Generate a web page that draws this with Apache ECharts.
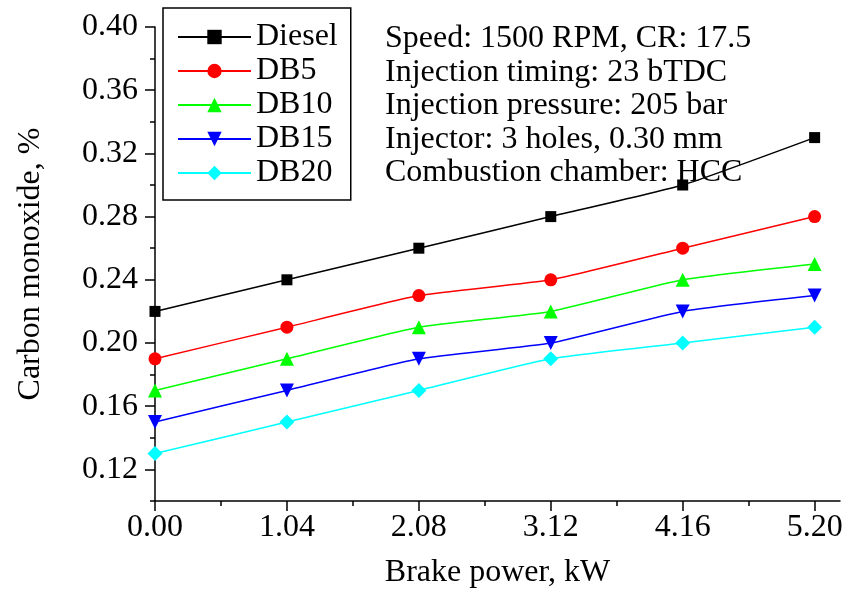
<!DOCTYPE html>
<html>
<head>
<meta charset="utf-8">
<script src="https://cdn.jsdelivr.net/npm/echarts@6/dist/echarts.min.js"></script>
<style>
  html, body { margin: 0; padding: 0; background: #fff; }
  #chart { width: 847px; height: 594px; }
</style>
</head>
<body>
<div id="chart"></div>
<script>
  // brake power, kW
  const power = [0.00, 1.04, 2.08, 3.12, 4.16, 5.20]
  const diesel = [0.22, 0.24, 0.26, 0.28, 0.30, 0.33]
  const db5 = [0.19, 0.21, 0.23, 0.24, 0.26, 0.28]
  const db10 = [0.17, 0.19, 0.21, 0.22, 0.24, 0.25]
  const db15 = [0.15, 0.17, 0.19, 0.20, 0.22, 0.23]
  const db20 = [0.13, 0.15, 0.17, 0.19, 0.20, 0.21]

  const xTicks = [0.00, 1.04, 2.08, 3.12, 4.16, 5.20]
  const xMinor = [0.52, 1.56, 2.60, 3.64, 4.68]
  const yTicks = [0.12, 0.16, 0.20, 0.24, 0.28, 0.32, 0.36, 0.40]
  const yMinor = [0.10, 0.14, 0.18, 0.22, 0.26, 0.30, 0.34, 0.38]

  const notes = [
    'Speed: 1500 RPM, CR: 17.5',
    'Injection timing: 23 bTDC',
    'Injection pressure: 205 bar',
    'Injector: 3 holes, 0.30 mm',
    'Combustion chamber: HCC'
  ]

  const font = 'Liberation Serif'
  const fs = 32

  const pairs = arr => power.map((p, i) => [p, arr[i]])

  const mk = (name, data, color, symbol, size, rotate) => ({
    name: name,
    type: 'line',
    data: pairs(data),
    smooth: 0.15,
    symbol: symbol,
    symbolSize: size,
    symbolRotate: rotate || 0,
    lineStyle: { color: color, width: 1.5 },
    itemStyle: { color: color },
    z: 3
  })

  let chart = echarts.init(document.getElementById('chart'))

  const baseX = { type: 'value', min: 0, max: 5.4, splitLine: { show: false } }
  const baseY = { type: 'value', min: 0.10, max: 0.40, splitLine: { show: false } }

  chart.setOption({
    animation: false,
    backgroundColor: '#fff',
    textStyle: { fontFamily: font },
    grid: { left: 155, right: 7, top: 27, bottom: 92 },
    xAxis: [
      Object.assign({}, baseX, {
        name: 'Brake power, kW',
        nameLocation: 'middle',
        nameGap: 56,
        nameTextStyle: { fontFamily: font, fontSize: fs, color: '#000' },
        axisLine: { lineStyle: { color: '#000', width: 1.5 } },
        axisTick: { customValues: xTicks, length: 10, lineStyle: { color: '#000', width: 1.5 } },
        axisLabel: {
          customValues: xTicks, margin: 11, fontFamily: font, fontSize: fs, color: '#000',
          formatter: v => v.toFixed(2)
        }
      }),
      Object.assign({}, baseX, {
        position: 'bottom',
        axisLine: { show: false },
        axisTick: { customValues: xMinor, length: 5, lineStyle: { color: '#000', width: 1.5 } },
        axisLabel: { show: false }
      })
    ],
    yAxis: [
      Object.assign({}, baseY, {
        name: 'Carbon monoxide, %',
        nameLocation: 'middle',
        nameGap: 108,
        nameTextStyle: { fontFamily: font, fontSize: fs, color: '#000' },
        axisLine: { show: true, lineStyle: { color: '#000', width: 1.5 } },
        axisTick: { show: true, customValues: yTicks, length: 10, lineStyle: { color: '#000', width: 1.5 } },
        axisLabel: {
          customValues: yTicks, margin: 17, fontFamily: font, fontSize: fs, color: '#000',
          formatter: v => v.toFixed(2)
        }
      }),
      Object.assign({}, baseY, {
        position: 'left',
        axisLine: { show: false },
        axisTick: { show: true, customValues: yMinor, length: 5, lineStyle: { color: '#000', width: 1.5 } },
        axisLabel: { show: false }
      })
    ],
    legend: {
      orient: 'vertical',
      left: 163,
      top: 8,
      padding: [13, 13, 11, 14],
      itemWidth: 73,
      itemHeight: 18,
      itemGap: 2,
      borderColor: '#000',
      borderWidth: 1.5,
      textStyle: { fontFamily: font, fontSize: fs, color: '#000', lineHeight: 30 },
      data: ['Diesel', 'DB5', 'DB10', 'DB15', 'DB20']
    },
    graphic: [{
      type: 'text',
      left: 385,
      top: 22,
      style: {
        text: notes.join('\n'),
        fontFamily: font,
        fontSize: fs,
        lineHeight: 33.5,
        fill: '#000'
      }
    }],
    series: [
      mk('Diesel', diesel, '#000000', 'rect', 11),
      mk('DB5', db5, '#ff0000', 'circle', 13),
      mk('DB10', db10, '#00ff00', 'triangle', 14),
      mk('DB15', db15, '#0000ff', 'triangle', 14, 180),
      mk('DB20', db20, '#00ffff', 'diamond', 15)
    ]
  })

  window.addEventListener('resize', function () {
    chart.resize()
  })
</script>
</body>
</html>
